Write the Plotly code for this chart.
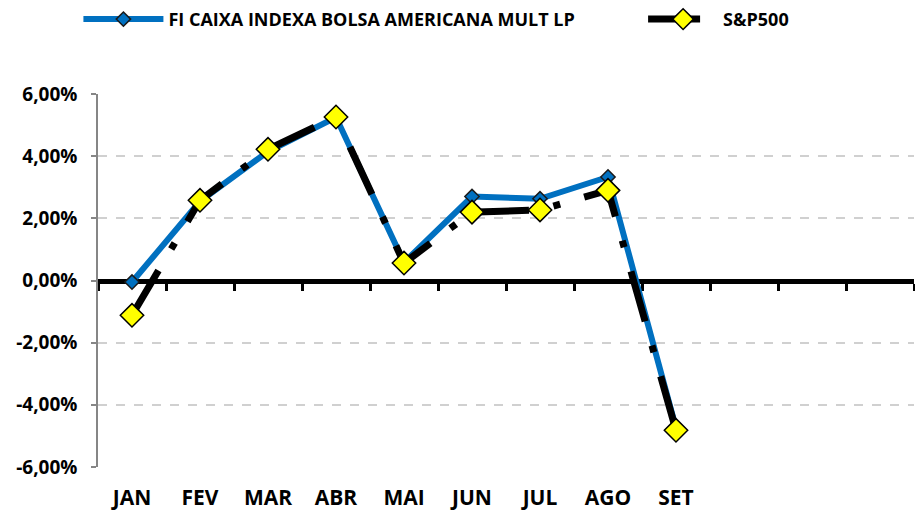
import plotly.graph_objects as go

months = ["JAN", "FEV", "MAR", "ABR", "MAI", "JUN", "JUL", "AGO", "SET"]
fund_name = "FI CAIXA INDEXA BOLSA AMERICANA MULT LP"
sp_name = "S&P500"
fund = [-0.05, 2.55, 4.15, 5.25, 0.58, 2.70, 2.63, 3.33, -4.75]
sp = [-1.12, 2.58, 4.22, 5.26, 0.56, 2.20, 2.27, 2.90, -4.82]
y_ticks = [-6, -4, -2, 0, 2, 4, 6]
y_ticktext = ["-6,00%", "-4,00%", "-2,00%", "0,00%", "2,00%", "4,00%", "6,00%"]
n_slots = 12

xpos = list(range(len(months)))
font_family = "'Open Sans', Lato, sans-serif"

fig = go.Figure()
fig.add_trace(go.Scatter(
    x=xpos, y=fund, name=fund_name, mode="lines+markers", legend="legend",
    line=dict(color="#0070C0", width=6),
    marker=dict(symbol="diamond", size=11, color="#0070C0",
                line=dict(color="#1a1a1a", width=1.5)),
))
fig.add_trace(go.Scatter(
    x=xpos, y=sp, name=sp_name, mode="lines+markers", legend="legend2",
    line=dict(color="#000000", width=7, dash="52px,25px,7px,25px"),
    marker=dict(symbol="diamond", size=18, color="#FFFF00",
                line=dict(color="#000000", width=1.5)),
))
# dummy trace for bottom label axis
fig.add_trace(go.Scatter(x=[0], y=[0], xaxis="x2", yaxis="y", mode="markers",
                         marker=dict(opacity=0), showlegend=False, hoverinfo="skip"))

boundaries = [i - 0.5 for i in range(n_slots + 1)]
legend_font = dict(size=18, family=font_family, color="#000000", weight="bold")

fig.update_layout(
    width=915, height=513,
    margin=dict(l=98, r=1, t=92, b=46),
    plot_bgcolor="white", paper_bgcolor="white",
    font=dict(family=font_family, color="#000000"),
    showlegend=True,
    legend=dict(orientation="h", x=-0.024, xanchor="left", y=1.2, yanchor="middle",
                itemwidth=80, font=legend_font, bgcolor="rgba(0,0,0,0)"),
    legend2=dict(orientation="h", x=0.668, xanchor="left", y=1.2, yanchor="middle",
                 itemwidth=70, font=legend_font, bgcolor="rgba(0,0,0,0)"),
    xaxis=dict(
        range=[-0.5, n_slots - 0.5], anchor="free", position=0.5,
        showline=True, linecolor="#000000", linewidth=5,
        tickmode="array", tickvals=boundaries, ticks="outside", ticklen=7,
        tickwidth=3, tickcolor="#000000", showticklabels=False,
        showgrid=False, zeroline=False, layer="below traces",
    ),
    xaxis2=dict(
        range=[-0.5, n_slots - 0.5], overlaying="x", anchor="y", side="bottom",
        showline=False, ticks="", showgrid=False, zeroline=False,
        tickmode="array", tickvals=xpos, ticktext=months,
        tickfont=dict(size=21, family=font_family, color="#000000", weight="bold"),
        ticklabelstandoff=16,
    ),
    yaxis=dict(
        range=[-6, 6], tickmode="array", tickvals=y_ticks, ticktext=y_ticktext,
        showline=True, linecolor="#868686", linewidth=1.5,
        ticks="outside", ticklen=5, tickcolor="#868686", tickwidth=1.5,
        showgrid=True, gridcolor="#D0D0D0", gridwidth=1.5, griddash="dash",
        zeroline=False,
        tickfont=dict(size=19, family=font_family, color="#000000", weight="bold"),
        ticklabelstandoff=10,
    ),
)
fig.write_html("out.html", config={"displayModeBar": False},
               post_script="document.body.style.margin='0';")
